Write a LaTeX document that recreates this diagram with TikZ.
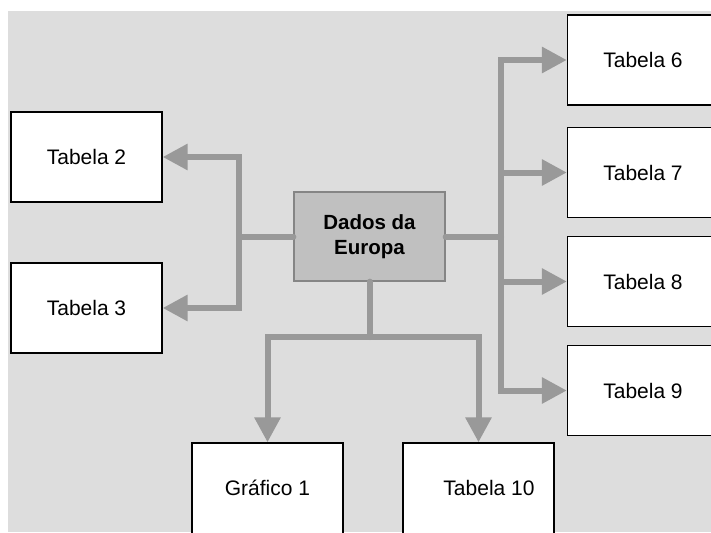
\documentclass[tikz,border=0pt]{standalone}
\usepackage{fontspec}
\setmainfont{Liberation Sans}
\usetikzlibrary{arrows.meta}
\definecolor{panel}{HTML}{DDDDDD}
\definecolor{wire}{HTML}{999999}
\definecolor{hubfill}{HTML}{C0C0C0}
\definecolor{hubline}{HTML}{858585}
\begin{document}
\begin{tikzpicture}[x=1pt,y=-1pt,
  label text/.style={font=\fontsize{21}{25}\selectfont},
  card/.style={draw=black,line width=1.3pt,fill=white,inner sep=0pt,
    minimum width=151pt,minimum height=90pt,label text},
  tallcard/.style={card,minimum height=110pt},
  hub/.style={draw=hubline,line width=1.3pt,fill=hubfill,inner sep=0pt,
    minimum width=151pt,minimum height=89pt,align=center,
    font=\fontsize{20.5}{24.5}\selectfont\bfseries},
  link/.style={draw=wire,line width=6pt,line cap=round},
  feed/.style={draw=wire,line width=6pt,line join=miter,
    -{Triangle[length=25pt,width=25pt]}}]
\useasboundingbox (0,0) rectangle (711,532);
\clip (0,0) rectangle (711,532);
\fill[panel] (8,11) rectangle (711,532);

% boxes
\node[card] (t2) at (86.5,157) {Tabela 2};
\node[card] (t3) at (86.5,308) {Tabela 3};
\node[hub] (eu) at (369.5,236.5) {Dados da\\Europa};
\node[card] (t6) at (643,60) {Tabela 6};
\node[card] (t7) at (643,172.5) {Tabela 7};
\node[card] (t8) at (643,281.5) {Tabela 8};
\node[card] (t9) at (643,390.5) {Tabela 9};
\node[tallcard] (g1) at (267.5,498) {};
\node[label text] (g1txt) at (267.5,488) {Gráfico 1};
\node[tallcard] (t10) at (478.5,498) {};
\node[label text] (t10txt) at (489,488) {Tabela 10};

% branch points
\coordinate (jl) at (239,236.5);
\coordinate (jr) at (501,236.5);
\coordinate (jb) at (369.5,337);

% connectors
\draw[link] (eu.west) -- (jl);
\draw[link] (eu.east) -- (jr);
\draw[link] (eu.south) -- (jb);
\draw[feed] (jl) |- (t2.east);
\draw[feed] (jl) |- (t3.east);
\draw[feed] (jr) |- (t6.west);
\draw[feed] (jr) |- (t7.west);
\draw[feed] (jr) |- (t8.west);
\draw[feed] (jr) |- (t9.west);
\draw[feed] (jb) -| (g1.north);
\draw[feed] (jb) -| (t10.north);
\end{tikzpicture}
\end{document}
